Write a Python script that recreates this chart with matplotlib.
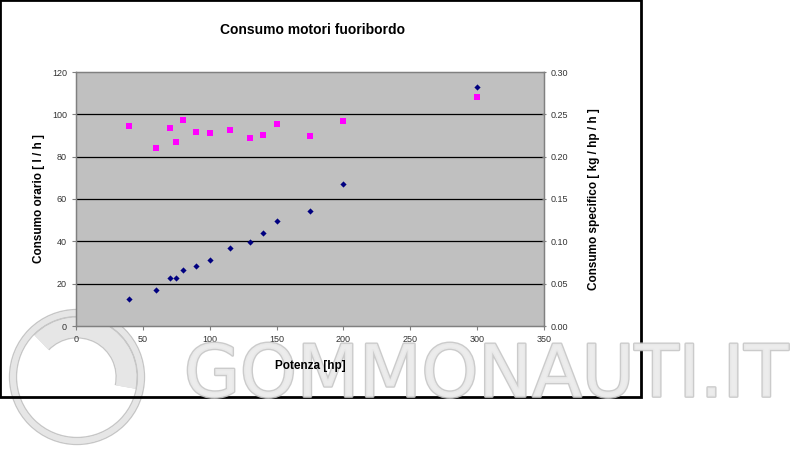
import matplotlib.pyplot as plt
import matplotlib.patheffects as pe
from matplotlib.patches import Rectangle, Ellipse, Arc

plt.rcParams['font.family'] = ['Liberation Sans', 'DejaVu Sans']

# potenza [hp]
potenza = [40, 60, 70, 75, 80, 90, 100, 115, 130, 140, 150, 175, 200, 300]
# consumo orario [l/h]
consumo_orario = [12.8, 17.2, 22.5, 22.5, 26.6, 28.3, 31.3, 36.7, 39.8, 43.8, 49.4, 54.3, 67.1, 112.9]
# consumo specifico [kg/hp/h]
consumo_specifico = [0.236, 0.210, 0.234, 0.217, 0.243, 0.229, 0.228, 0.231, 0.222, 0.226, 0.238, 0.224, 0.242, 0.271]

W, H = 800, 450
fig = plt.figure(figsize=(8, 4.5), dpi=100)
fig.patch.set_facecolor('white')

# cornice del grafico
fig.add_artist(Rectangle((0.0, 53.5 / H), 640.5 / W, 1 - 53.5 / H, transform=fig.transFigure,
                         fill=False, edgecolor='black', linewidth=2, zorder=1))

ax = fig.add_axes([76 / W, 1 - 326 / H, (544 - 76) / W, (326 - 72) / H])
ax.set_facecolor('#c0c0c0')
ax.set_xlim(0, 350)
ax.set_ylim(0, 120)
ax.set_xticks(range(0, 351, 50))
ax.set_yticks(range(0, 121, 20))
for v in range(20, 120, 20):
    ax.axhline(v, color='black', linewidth=0.9, zorder=1)
for s in ax.spines.values():
    s.set_color('#808080')
    s.set_linewidth(1)
ax.tick_params(colors='#808080', labelcolor='#333333', labelsize=6.5, length=3, width=0.8)
ax.scatter(potenza, consumo_orario, marker='D', s=10, color='#000080', zorder=3, linewidths=0)
ax.set_ylabel('Consumo orario [ l / h ]', fontsize=8.5, fontweight='bold', labelpad=5)

ax2 = ax.twinx()
ax2.set_ylim(0, 0.30)
ax2.set_yticks([0.0, 0.05, 0.10, 0.15, 0.20, 0.25, 0.30])
ax2.set_yticklabels(['%.2f' % v for v in [0.0, 0.05, 0.10, 0.15, 0.20, 0.25, 0.30]])
ax2.tick_params(colors='#808080', labelcolor='#333333', labelsize=6.5, length=3, width=0.8, direction='inout')
for s in ax2.spines.values():
    s.set_color('#808080')
ax2.scatter(potenza, consumo_specifico, marker='s', s=14, color='#ff00ff', zorder=3, linewidths=0)
ax2.set_ylabel('Consumo specifico [ kg / hp / h ]', fontsize=8.5, fontweight='bold', labelpad=14)

fig.text(313 / W, 1 - 30 / H, 'Consumo motori fuoribordo', ha='center', va='center',
         fontsize=10, fontweight='bold')

# watermark
wm = fig.text(486 / W, 1 - 377 / H, 'GOMMONAUTI.IT', ha='center', va='center',
              fontsize=52, color='#ececec', alpha=0.9, family=['DejaVu Sans'], zorder=10)
wm.set_path_effects([pe.withStroke(linewidth=2, foreground='#c6c6c6')])
r = 64
ring = Ellipse((77 / W, 1 - 377 / H), 2 * r / W, 2 * r / H, transform=fig.transFigure,
               fill=False, edgecolor='#e6e6e6', linewidth=4, zorder=-1)
ring.set_path_effects([pe.withStroke(linewidth=6, foreground='#c6c6c6'), pe.Normal()])
fig.add_artist(ring)
swoosh = Arc((77 / W, 1 - 377 / H), 1.55 * r / W, 1.55 * r / H, angle=0, theta1=-20, theta2=120,
             transform=fig.transFigure, edgecolor='#e6e6e6', linewidth=14, zorder=-1)
swoosh.set_path_effects([pe.withStroke(linewidth=16, foreground='#c6c6c6'), pe.Normal()])
fig.add_artist(swoosh)

# etichetta asse x sopra il watermark
fig.text(310 / W, 1 - 366 / H, 'Potenza [hp]', ha='center', va='center',
         fontsize=8.5, fontweight='bold', zorder=12)

fig.savefig('out.png', dpi=100)
